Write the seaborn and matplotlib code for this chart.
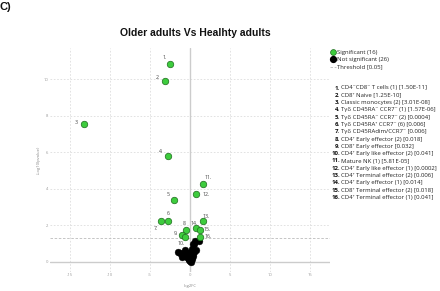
import matplotlib
matplotlib.use("Agg")
import matplotlib.pyplot as plt
import seaborn as sns
import numpy as np
import pandas as pd
from matplotlib.lines import Line2D

# ---------------- data ----------------
sig_ids = list(range(1, 17))
sig_names = [
    "CD4\u207bCD8\u207b T cells (1) [1.50E-11]",
    "CD8\u207a Naive [1.25E-10]",
    "Classic monocytes (2) [3.01E-08]",
    "T\u03b3\u03b4 CD45RA\u207b CCR7\u207b (1) [1.57E-06]",
    "T\u03b3\u03b4 CD45RA\u207b CCR7\u207b (2) [0.0004]",
    "T\u03b3\u03b4 CD45RA\u207a CCR7\u207b (6) [0.006]",
    "T\u03b3\u03b4 CD45RAdim/CCR7\u207b [0.006]",
    "CD4\u207a Early effector (2) [0.018]",
    "CD8\u207a Early effector [0.032]",
    "CD4\u207a Early like effector (2) [0.041]",
    "Mature NK (1) [5.81E-05]",
    "CD4\u207a Early like effector (1) [0.0002]",
    "CD4\u207a Terminal effector (2) [0.006]",
    "CD4\u207a Early effector (1) [0.014]",
    "CD8\u207a Terminal effector (2) [0.018]",
    "CD4\u207a Terminal effector (1) [0.041]",
]
sig_log2fc = [-2.54, -3.17, -13.3, -2.7, -2.04, -2.8, -3.58, -0.54, -0.96, -0.63,
              1.63, 0.79, 1.63, 0.79, 1.2, 1.29]
sig_pvalue = [1.50e-11, 1.25e-10, 3.01e-08, 1.57e-06, 0.0004, 0.006, 0.006, 0.018,
              0.032, 0.041, 5.81e-05, 0.0002, 0.006, 0.014, 0.018, 0.041]

ns_log2fc = [1.17, 0.63, 0.5, 0.4, 0.2, -0.6, -1.25, -0.83, -1.04, -0.4, 0.0, 0.08,
             0.4, -0.2, 0.25, -0.1, -0.55, 0.55, -1.5, 0.1, -0.3, 0.3, -0.7, 0.05,
             -0.15, 0.7]
ns_pvalue = [0.071, 0.071, 0.107, 0.11, 0.204, 0.224, 0.31, 0.417, 0.513, 0.513,
             0.63, 0.955, 0.447, 0.34, 0.25, 0.79, 0.38, 0.29, 0.30, 0.50, 0.60,
             0.70, 0.33, 0.87, 0.72, 0.21]

threshold = 0.05
x_ticks = [-15, -10, -5, 0, 5, 10, 15]
y_ticks = [0, 2, 4, 6, 8, 10]

# ---------------- frame ----------------
df = pd.DataFrame({
    "log2FC": sig_log2fc + ns_log2fc,
    "pvalue": sig_pvalue + ns_pvalue,
    "status": ["Significant"] * len(sig_log2fc) + ["Not significant"] * len(ns_log2fc),
})
df["nlog"] = -np.log10(df["pvalue"])

sns.set_theme(style="white")
plt.rcParams["font.family"] = ["Open Sans", "DejaVu Sans"]

W, H = 440, 291
fig = plt.figure(figsize=(W / 100, H / 100), dpi=100)
ax = fig.add_axes([50 / W, 1 - 272 / H, 280 / W, (272 - 48) / H])

ax.set_xlim(-17.5, 17.5)
ax.set_ylim(-0.55, 11.7)
for s in ax.spines.values():
    s.set_visible(False)

# grid
for xv in x_ticks:
    if xv != 0:
        ax.axvline(xv, color="#dddddd", lw=0.6, ls=(0, (2, 2)), zorder=0)
for yv in y_ticks:
    if yv != 0:
        ax.axhline(yv, color="#dddddd", lw=0.6, ls=(0, (2, 2)), zorder=0)
ax.axvline(0, color="#cccccc", lw=1.0, zorder=0.5)
ax.axhline(0, color="#cccccc", lw=1.0, zorder=0.5)
ax.axhline(-np.log10(threshold), color="#bbbbbb", lw=0.6, ls=(0, (3, 2)), zorder=0.6)

sns.scatterplot(data=df[df.status == "Not significant"], x="log2FC", y="nlog",
                color="black", s=24, edgecolor="black", linewidth=0.3, ax=ax,
                legend=False, zorder=2)
sns.scatterplot(data=df[df.status == "Significant"], x="log2FC", y="nlog",
                color="#3dcc3d", s=22, edgecolor="#1d6b1d", linewidth=0.5, ax=ax,
                legend=False, zorder=3)

# point labels (offset in pixels)
label_offsets = [(-5, 7), (-7, 3), (-7, 2), (-7, 4), (-5, 5), (1, 8), (-5, -7), (-1, 7),
                 (-6, 1), (-4, -7), (5, 7), (10, 0), (3, 5), (-2, 5), (8, 1), (8, 0)]
for i, (xv, pv) in enumerate(zip(sig_log2fc, sig_pvalue)):
    ax.annotate(f"{sig_ids[i]}.", (xv, -np.log10(pv)), xytext=label_offsets[i],
                textcoords="offset pixels", ha="center", va="center",
                fontsize=3.8, color="#444444", zorder=4)

ax.set_xticks(x_ticks)
ax.set_yticks(y_ticks)
ax.set_xticklabels([str(v) for v in x_ticks])
ax.set_yticklabels([str(v) for v in y_ticks])
ax.tick_params(axis="both", labelsize=3, colors="#999999", length=0, pad=1)
ax.set_xlabel("log2FC", fontsize=3, color="#888888", labelpad=5)
ax.set_ylabel("-Log10(pvalue)", fontsize=3, color="#888888", labelpad=2)

# title and panel letter
fig.text(195 / W, 1 - 33 / H, "Older adults Vs Healhty adults", ha="center", va="center",
         fontsize=7.5, fontweight="bold", family="Liberation Sans", color="#111111")
fig.text(0 / W, 1 - 7 / H, "C)", ha="left", va="center", fontsize=8,
         fontweight="bold", family="Liberation Sans", color="#111111")

# legend
n_sig = len(sig_log2fc)
n_ns = len(ns_log2fc)
handles = [
    Line2D([], [], marker="o", ls="", markersize=4.2, markerfacecolor="#3dcc3d",
           markeredgecolor="#1d6b1d", markeredgewidth=0.5),
    Line2D([], [], marker="o", ls="", markersize=4.2, markerfacecolor="black",
           markeredgecolor="black"),
    Line2D([], [], color="#bbbbbb", lw=0.6, ls=(0, (3, 2))),
]
labels = [f"Significant ({n_sig})", f"Not significant ({n_ns})", f"Threshold [{threshold}]"]
fig.legend(handles, labels, loc="upper left", bbox_to_anchor=(330 / W, 1 - 50 / H),
           frameon=False, fontsize=4.3, handlelength=1.0, handletextpad=0.15,
           labelspacing=0.35, borderpad=0, borderaxespad=0)

# numbered list
y0, dy = 88, 7.3
for i, name in enumerate(sig_names):
    yy = 1 - (y0 + i * dy) / H
    fig.text(340 / W, yy, f"{sig_ids[i]}.", ha="right", va="center", fontsize=4.3,
             fontweight="bold", color="#111111")
    fig.text(341 / W, yy, name, ha="left", va="center", fontsize=4.3, color="#222222")

fig.savefig("out.png", dpi=100)
